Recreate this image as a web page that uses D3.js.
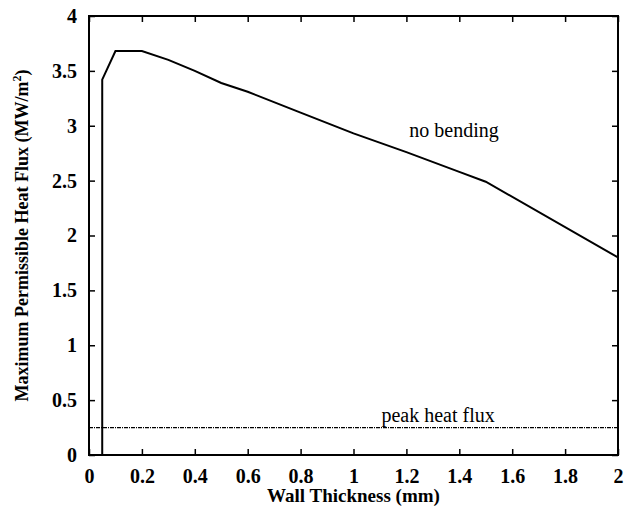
<!DOCTYPE html>
<html lang="en">
<head>
  <meta charset="UTF-8">
  <title>Maximum Permissible Heat Flux</title>
  <script src="https://d3js.org/d3.v7.min.js"></script>
  <style>
    body { margin: 0; background: #fff; }
    text { font-family: "Liberation Serif", "DejaVu Serif", serif; font-weight: bold; fill: #000; }
  </style>
</head>
<body>
  <svg width="629" height="509"></svg>

  <script>
    // wall thickness (mm) vs max permissible heat flux (MW/m^2)
    const thickness = [0.05, 0.05, 0.1, 0.2, 0.3, 0.4, 0.5, 0.6, 0.8, 1.0, 1.2, 1.4, 1.5, 2.0];
    const noBending = [0, 3.42, 3.68, 3.68, 3.6, 3.5, 3.39, 3.31, 3.12, 2.93, 2.76, 2.58, 2.49, 1.8];

    const peakX = [0, 2];
    const peakFlux = [0.25, 0.25];

    const xTicks = [0, 0.2, 0.4, 0.6, 0.8, 1, 1.2, 1.4, 1.6, 1.8, 2];
    const yTicks = [0, 0.5, 1, 1.5, 2, 2.5, 3, 3.5, 4];

    const svg = d3.select("svg");
    const margin = { top: 16, right: 11, bottom: 54, left: 89 };
    const width = 629 - margin.left - margin.right;
    const height = 509 - margin.top - margin.bottom;

    const g = svg.append("g").attr("transform", `translate(${margin.left},${margin.top})`);

    const x = d3.scaleLinear().domain([0, 2]).range([0, width]);
    const y = d3.scaleLinear().domain([0, 4]).range([height, 0]);

    // frame
    g.append("rect")
        .attr("width", width).attr("height", height)
        .attr("fill", "none").attr("stroke", "#000").attr("stroke-width", 2);

    const fmt = d => d3.format("")(d);

    const xAxis = g.append("g").attr("transform", `translate(0,${height})`)
        .call(d3.axisBottom(x).tickValues(xTicks).tickSize(-6).tickPadding(14).tickFormat(fmt));
    const xTop = g.append("g")
        .call(d3.axisTop(x).tickValues(xTicks).tickSize(-6).tickFormat(""));
    const yAxis = g.append("g")
        .call(d3.axisLeft(y).tickValues(yTicks).tickSize(-6).tickPadding(12).tickFormat(fmt));
    const yRight = g.append("g").attr("transform", `translate(${width},0)`)
        .call(d3.axisRight(y).tickValues(yTicks).tickSize(-6).tickFormat(""));

    [xAxis, xTop, yAxis, yRight].forEach(a => {
      a.select(".domain").remove();
      a.selectAll(".tick line").attr("stroke", "#000").attr("stroke-width", 1.5);
      a.selectAll("text").style("font-size", "20px").attr("fill", "#000")
          .style("font-family", "'Liberation Serif', serif");
    });

    const pts = thickness.map((t, i) => [t, noBending[i]]);
    g.append("path")
        .datum(pts)
        .attr("fill", "none").attr("stroke", "#000").attr("stroke-width", 2)
        .attr("d", d3.line().x(d => x(d[0])).y(d => y(d[1])));

    const peak = peakX.map((t, i) => [t, peakFlux[i]]);
    g.append("path")
        .datum(peak)
        .attr("fill", "none").attr("stroke", "#000").attr("stroke-width", 1.2)
        .attr("stroke-dasharray", "4,1,1,1")
        .attr("d", d3.line().x(d => x(d[0])).y(d => y(d[1])));

    g.append("text")
        .attr("x", x(1.38)).attr("y", y(2.9))
        .attr("text-anchor", "middle").style("font-size", "20px").style("font-weight", "normal")
        .text("no bending");

    g.append("text")
        .attr("x", x(1.32)).attr("y", y(0.3))
        .attr("text-anchor", "middle").style("font-size", "20px").style("font-weight", "normal")
        .text("peak heat flux");

    svg.append("text")
        .attr("x", margin.left + width / 2).attr("y", 502)
        .attr("text-anchor", "middle").style("font-size", "19px")
        .text("Wall Thickness (mm)");

    const yl = svg.append("text")
        .attr("transform", `translate(28,${margin.top + height / 2}) rotate(-90)`)
        .attr("text-anchor", "middle").style("font-size", "18px");
    yl.append("tspan").text("Maximum Permissible Heat Flux (MW/m");
    yl.append("tspan").attr("dy", -7).style("font-size", "12px").text("2");
    yl.append("tspan").attr("dy", 7).text(")");
  </script>
</body>
</html>
